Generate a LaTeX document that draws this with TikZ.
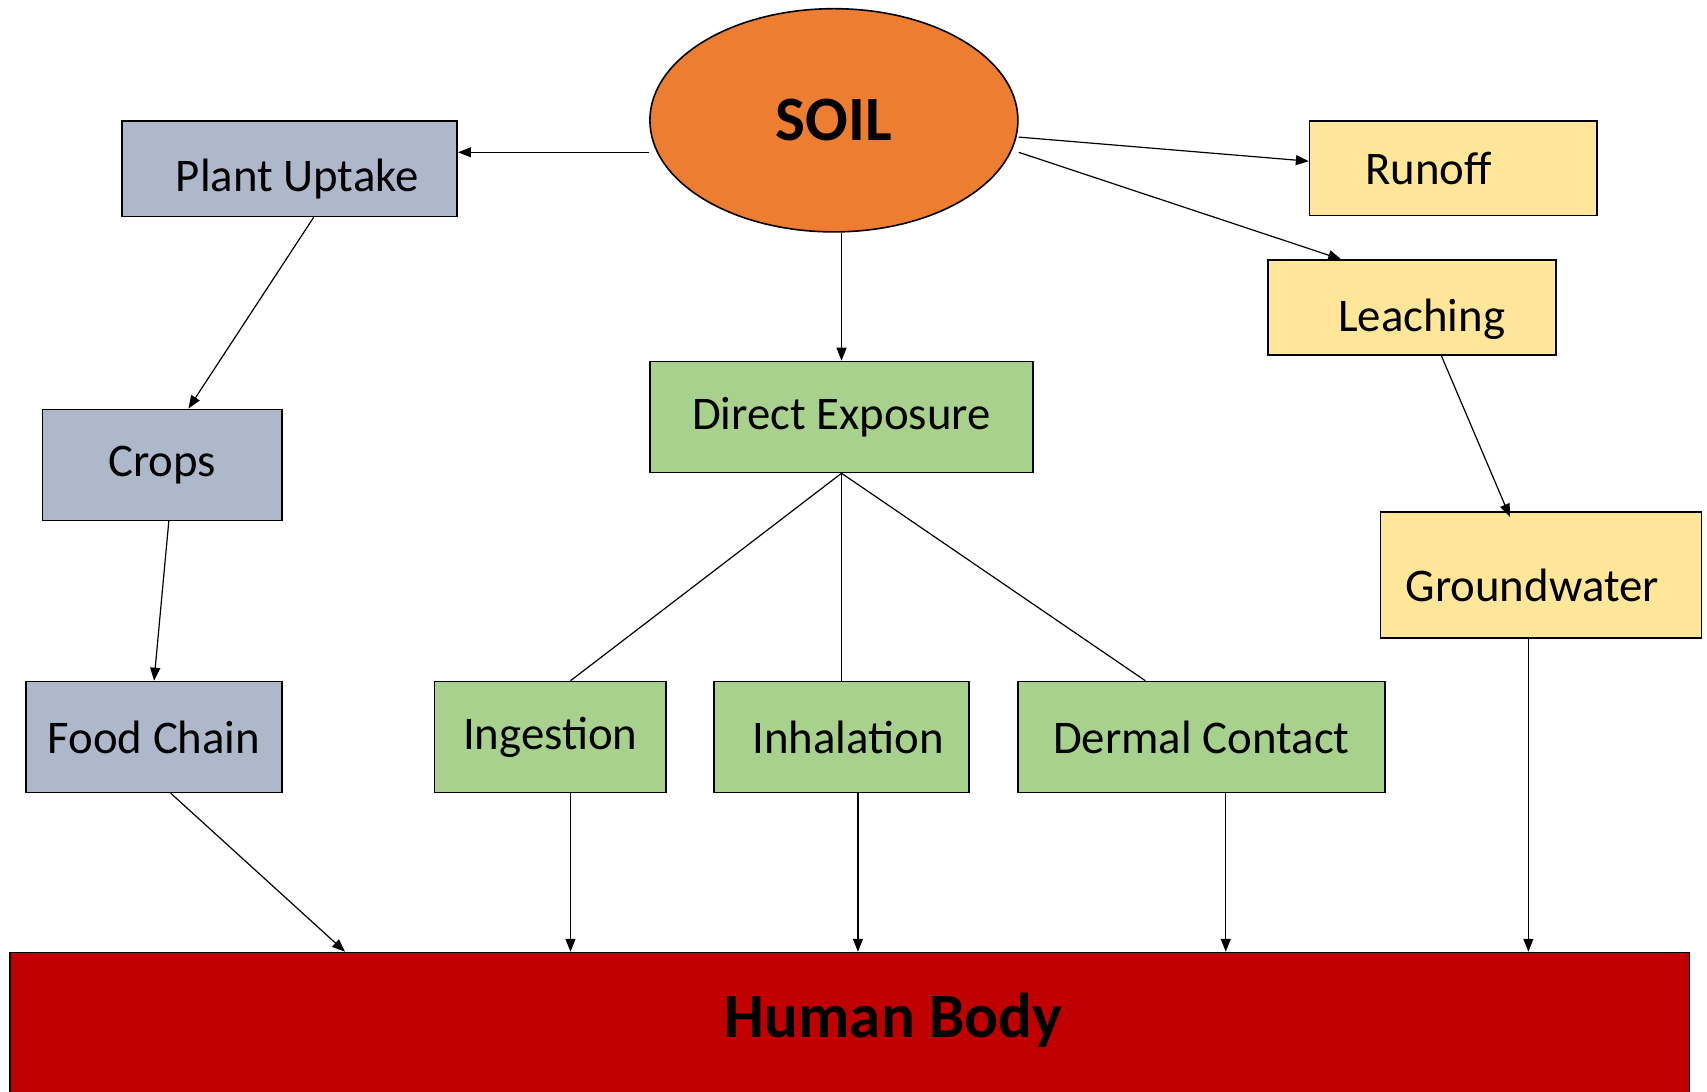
\documentclass[tikz,border=0pt]{standalone}
\usepackage{fontspec}
\setmainfont{Carlito}
\usepackage{tikz}
\usetikzlibrary{shapes.geometric, arrows.meta, positioning, calc}
\definecolor{soilorange}{HTML}{ED7D31}
\definecolor{plantgray}{HTML}{ADB9CA}
\definecolor{exposegreen}{HTML}{A9D18E}
\definecolor{wateryellow}{HTML}{FFE699}
\definecolor{bodyred}{HTML}{C00000}

\begin{document}
\begin{tikzpicture}[
  x=0.5443pt, y=-0.5443pt,
  pathbox/.style={rectangle, draw=black, line width=0.8pt, inner sep=0pt, font=\fontsize{23.4}{28}\selectfont, text=black},
  plantbox/.style={pathbox, fill=plantgray},
  exposebox/.style={pathbox, fill=exposegreen},
  waterbox/.style={pathbox, fill=wateryellow},
  offtext/.style n args={3}{label={[xshift=#1, yshift=#2, font=\fontsize{23.4}{28}\selectfont]center:#3}},
  arr/.style={-{Triangle[length=6.5pt, width=5pt]}, line width=0.6pt},
  link/.style={line width=0.6pt}
]
  \useasboundingbox (0,0) rectangle (1568,1003);
  \clip (0,0) rectangle (1568,1003);

  % Source
  \node[ellipse, draw=black, line width=0.8pt, fill=soilorange, inner sep=0pt, minimum width=184pt, minimum height=111.6pt, font=\fontsize{31.6}{36}\selectfont\bfseries] (soil) at (766,110.5) {SOIL};

  % Plant pathway (left column)
  \node[plantbox, minimum width=167.6pt, minimum height=47.9pt, offtext={3.8pt}{-4.9pt}{Plant Uptake}] (uptake) at (266,155) {};
  \node[plantbox, minimum width=119.7pt, minimum height=55.5pt] (crops) at (149,427) {Crops};
  \node[plantbox, minimum width=127.9pt, minimum height=55.5pt] (foodchain) at (141.5,677) {Food Chain};

  % Water pathway (right column)
  \node[waterbox, minimum width=143.7pt, minimum height=47.4pt, offtext={-12.5pt}{0pt}{Runoff}] (runoff) at (1335,154.5) {};
  \node[waterbox, minimum width=143.7pt, minimum height=47.4pt, offtext={4.9pt}{-6pt}{Leaching}] (leaching) at (1297,282.5) {};
  \node[waterbox, minimum width=160.6pt, minimum height=63.1pt, offtext={-4.4pt}{-5.4pt}{Groundwater}] (groundwater) at (1415.5,528) {};

  % Direct exposure routes (middle)
  \node[exposebox, minimum width=191.6pt, minimum height=55.5pt] (direct) at (773,383) {Direct Exposure};
  \node[exposebox, minimum width=115.9pt, minimum height=55.5pt] (ingestion) at (505.5,677) {Ingestion};
  \node[exposebox, minimum width=127.4pt, minimum height=55.5pt, offtext={3.3pt}{0pt}{Inhalation}] (inhalation) at (773,677) {};
  \node[exposebox, minimum width=183.4pt, minimum height=55.5pt] (dermal) at (1103.5,677) {Dermal Contact};

  % Receptor
  \node[rectangle, draw=black, line width=0.8pt, fill=bodyred, inner sep=0pt, minimum width=839.9pt, minimum height=73.5pt, label={[xshift=22pt, yshift=3pt, font=\fontsize{31.6}{36}\selectfont\bfseries]center:Human Body}] (body) at (780.5,942.5) {};

  % Arrows out of the soil
  \draw[arr] ([yshift=-16pt]soil.west) coordinate (soilw) -- (soilw -| uptake.east);
  \draw[arr] ([yshift=-8.4pt]soil.east) -- ([yshift=3.5pt]runoff.west);
  \draw[arr] ([yshift=-16pt]soil.east) -- ([xshift=-35.4pt]leaching.north);
  \draw[arr] (direct.north |- soil.south) -- (direct.north);

  % Plant chain
  \draw[arr] ([xshift=12pt]uptake.south) -- ([xshift=13.1pt]crops.north);
  \draw[arr] ([xshift=3.3pt]crops.south) -- (foodchain.north);

  % Water chain
  \draw[arr] ([xshift=14.7pt]leaching.south) -- ([xshift=-15.5pt, yshift=-3pt]groundwater.north);

  % Split of direct exposure (plain lines)
  \draw[link] (direct.south) -- ([xshift=10.1pt]ingestion.north);
  \draw[link] (direct.south) -- (inhalation.north);
  \draw[link] (direct.south) -- ([xshift=-28pt]dermal.north);

  % Everything into the body
  \draw[arr] ([xshift=8.4pt]foodchain.south) -- ([xshift=-252.3pt]body.north);
  \draw[arr] ([xshift=10.1pt]ingestion.south) coordinate (ing) -- (ing |- body.north);
  \draw[arr] ([xshift=8.2pt]inhalation.south) coordinate (inh) -- (inh |- body.north);
  \draw[arr] ([xshift=12.2pt]dermal.south) coordinate (der) -- (der |- body.north);
  \draw[arr] ([xshift=-6.3pt]groundwater.south) coordinate (gw) -- (gw |- body.north);
\end{tikzpicture}
\end{document}
